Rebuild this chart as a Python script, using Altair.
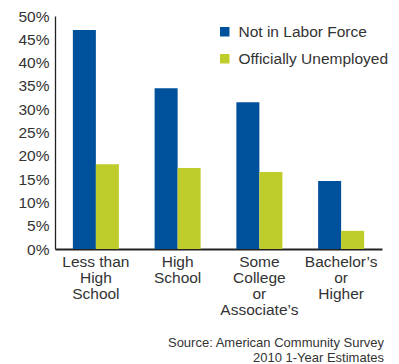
import altair as alt
import pandas as pd

categories = ["Less than|High|School", "High|School", "Some|College|or|Associate’s", "Bachelor’s|or|Higher"]
series = ["Not in Labor Force", "Officially Unemployed"]
not_in_labor = [47.0, 34.5, 31.5, 14.6]
unemployed = [18.2, 17.4, 16.5, 3.9]
y_ticks = [0, 5, 10, 15, 20, 25, 30, 35, 40, 45, 50]
colors = ["#00519C", "#BFCD2A"]

rows = []
for c, a, b in zip(categories, not_in_labor, unemployed):
    rows.append({"cat": c, "series": series[0], "value": a})
    rows.append({"cat": c, "series": series[1], "value": b})
df = pd.DataFrame(rows)

FONT = "Liberation Sans"
FS = 15.5

chart = alt.Chart(df).mark_bar().encode(
    x=alt.X("cat:N", sort=categories, title=None,
            scale=alt.Scale(paddingInner=0.437, paddingOuter=0.2185),
            axis=alt.Axis(labelAngle=0, ticks=False, labelPadding=5,
                          labelExpr="split(datum.label, '|')",
                          labelLineHeight=16, labelFontSize=FS, labelFont=FONT,
                          labelColor="#333333", domainColor="#222222",
                          domainWidth=2, labelBaseline="top")),
    xOffset=alt.XOffset("series:N", sort=series, scale=alt.Scale(paddingInner=0, paddingOuter=0)),
    y=alt.Y("value:Q", title=None,
            scale=alt.Scale(domain=[0, 50], nice=False),
            axis=alt.Axis(values=y_ticks, ticks=False, grid=False, labelPadding=6,
                          labelExpr="datum.value + '%'", labelFontSize=FS, labelFont=FONT,
                          labelColor="#333333", domainColor="#222222", domainWidth=1.3)),
    color=alt.Color("series:N", sort=series, title=None,
                    scale=alt.Scale(domain=series, range=colors),
                    legend=alt.Legend(orient="none", legendX=162, legendY=8,
                                      symbolType="square", symbolSize=90,
                                      symbolStrokeWidth=0, labelFontSize=FS,
                                      labelFont=FONT, labelColor="#333333",
                                      rowPadding=10, labelOffset=6)),
).properties(
    width=327, height=233,
    title=alt.TitleParams(
        text=["Source: American Community Survey", "2010 1-Year Estimates"],
        orient="bottom", anchor="end", fontSize=13, fontWeight="normal",
        font=FONT, color="#333333", offset=19, lineHeight=15, dx=-5),
    autosize=alt.AutoSizeParams(type="none"),
    padding={"left": 47, "top": 8, "right": 9, "bottom": 114},
).configure_view(stroke=None)

chart.save("out.html", embed_options={"renderer": "svg", "actions": False})
